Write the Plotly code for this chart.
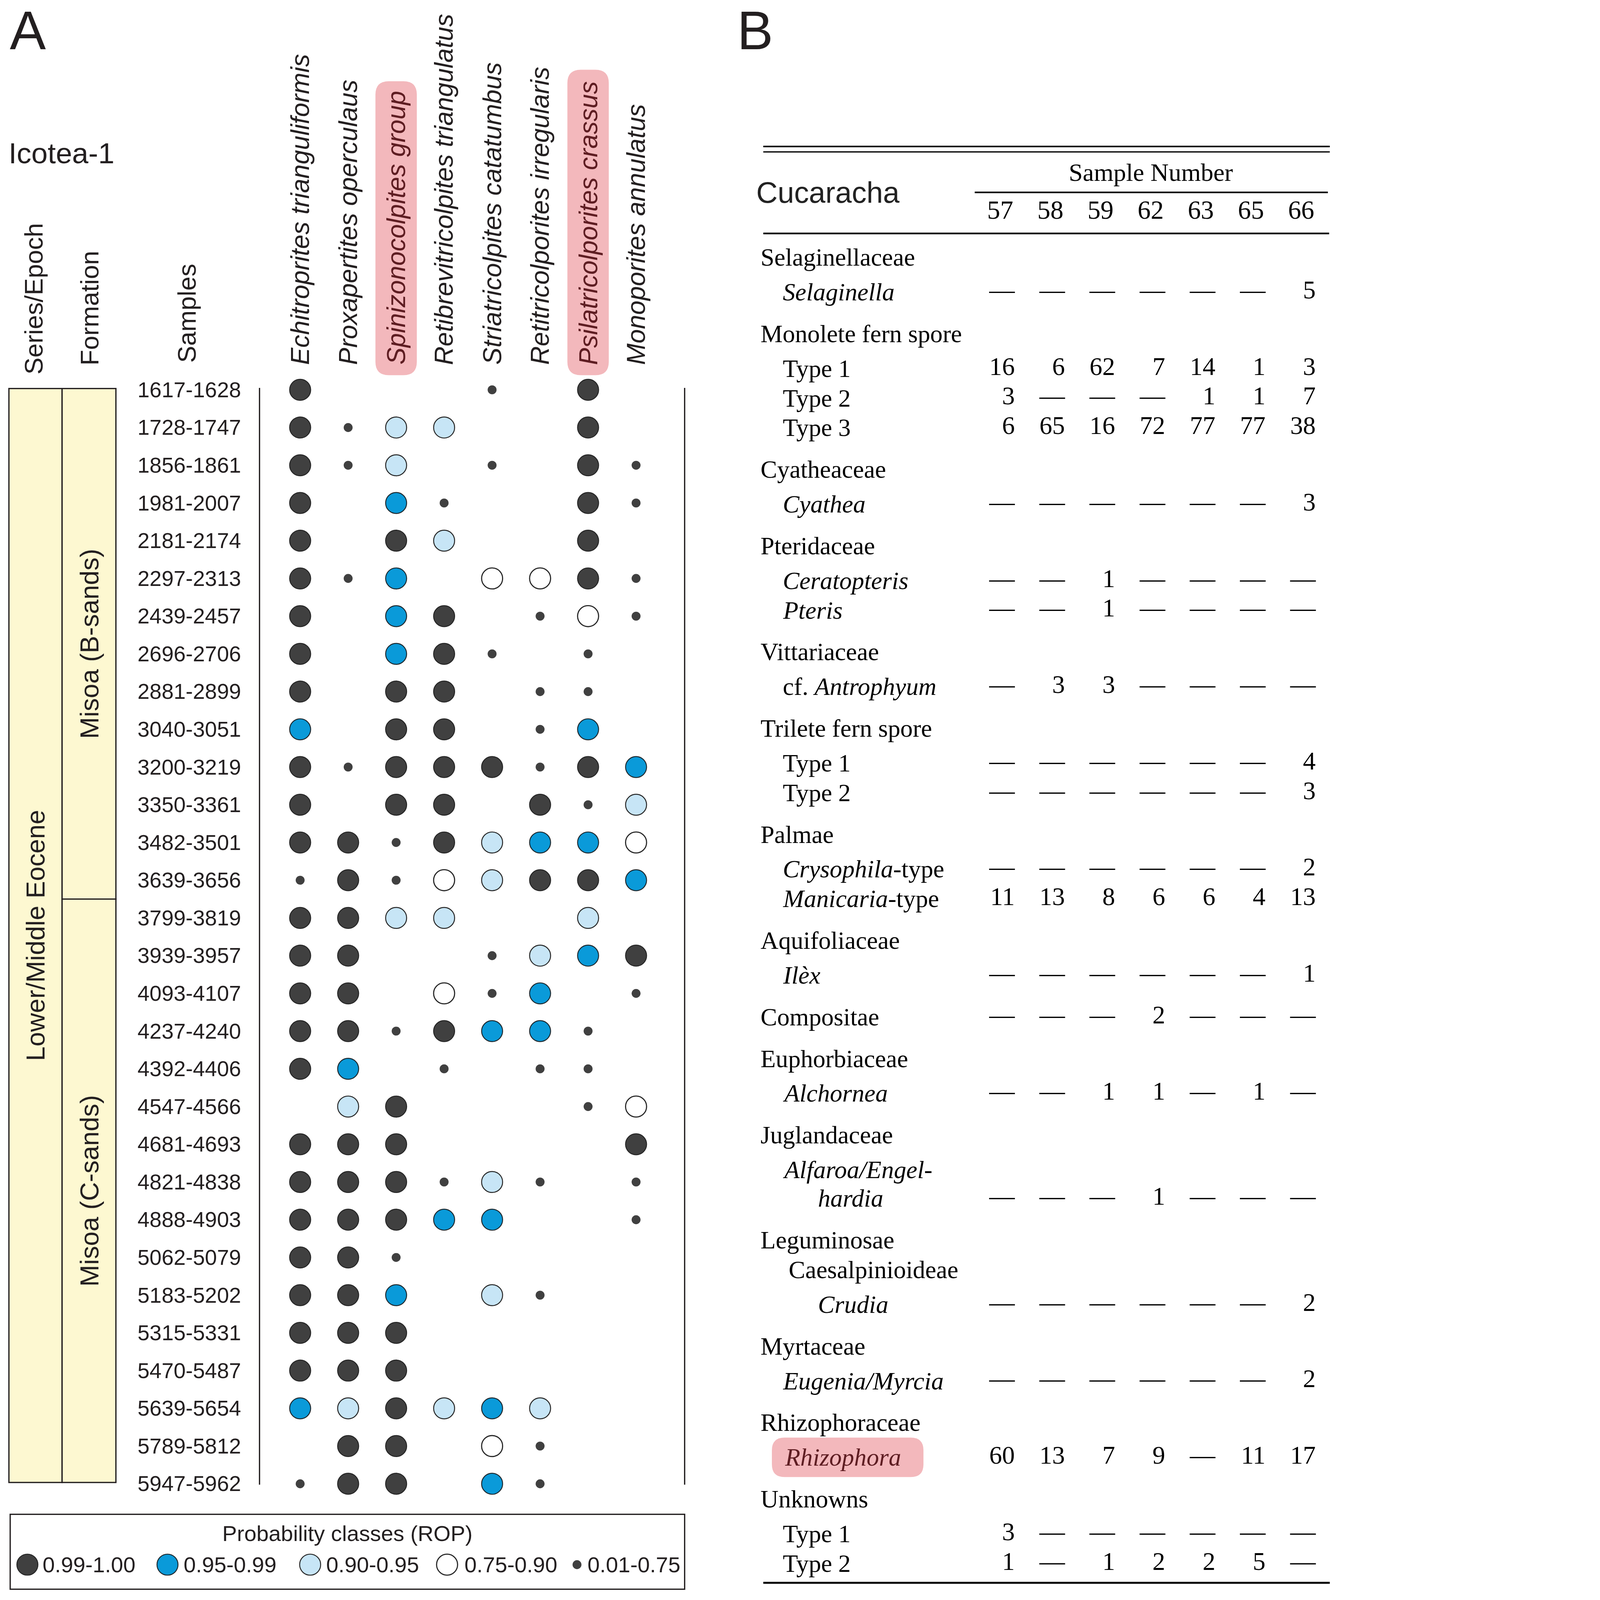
import plotly.graph_objects as go

# reference canvas (all layout constants below are in these units)
W0, H0 = 4199, 5024
# the browser viewport is 4096x4096, so the whole figure is scaled to fit it
S = 4096 / H0
W, H = round(W0 * S), round(H0 * S)

# ---------------- Panel A data ----------------
taxa_A = ["Echitroprites trianguliformis", "Proxapertites operculaus", "Spinizonocolpites group",
          "Retibrevitricolpites triangulatus", "Striatricolpites catatumbus",
          "Retitricolporites irregularis", "Psilatricolporites crassus", "Monoporites annulatus"]
highlight_A = ["Spinizonocolpites group", "Psilatricolporites crassus"]
samples_A = ["1617-1628", "1728-1747", "1856-1861", "1981-2007", "2181-2174", "2297-2313",
             "2439-2457", "2696-2706", "2881-2899", "3040-3051", "3200-3219", "3350-3361",
             "3482-3501", "3639-3656", "3799-3819", "3939-3957", "4093-4107", "4237-4240",
             "4392-4406", "4547-4566", "4681-4693", "4821-4838", "4888-4903", "5062-5079",
             "5183-5202", "5315-5331", "5470-5487", "5639-5654", "5789-5812", "5947-5962"]
# class codes per sample (one char per taxon): A=0.99-1.00, B=0.95-0.99, C=0.90-0.95,
# D=0.75-0.90, E=0.01-0.75, '.'=absent
rop_A = ["A...E.A.", "AECC..A.", "AEC.E.AE", "A.BE..AE", "A.AC..A.", "AEB.DDAE",
         "A.BA.EDE", "A.BAE.E.", "A.AA.EE.", "B.AA.EB.", "AEAAAEAB", "A.AA.AEC",
         "AAEACBBD", "EAEDCAAB", "AACC..C.", "AA..ECBA", "AA.DEB.E", "AAEABBE.",
         "AB.E.EE.", ".CA...ED", "AAA....A", "AAAECE.E", "AAABB..E", "AAE.....",
         "AAB.CE..", "AAA.....", "AAA.....", "BCACBC..", ".AA.DE..", "EAA.BE.."]
class_codes = ["A", "B", "C", "D", "E"]
class_labels = ["0.99-1.00", "0.95-0.99", "0.90-0.95", "0.75-0.90", "0.01-0.75"]
series_label = "Lower/Middle Eocene"
formation_labels = ["Misoa (B-sands)", "Misoa (C-sands)"]
formation_split_after = "3639-3656"

# ---------------- Panel B data ----------------
sample_numbers_B = ["57", "58", "59", "62", "63", "65", "66"]
table_labels = ["Selaginellaceae", "<i>Selaginella</i>", "Monolete fern spore", "Type 1", "Type 2",
                "Type 3", "Cyatheaceae", "<i>Cyathea</i>", "Pteridaceae", "<i>Ceratopteris</i>",
                "<i>Pteris</i>", "Vittariaceae", "cf. <i>Antrophyum</i>", "Trilete fern spore",
                "Type 1", "Type 2", "Palmae", "<i>Crysophila</i>-type", "<i>Manicaria</i>-type",
                "Aquifoliaceae", "<i>Ilèx</i>", "Compositae", "Euphorbiaceae", "<i>Alchornea</i>",
                "Juglandaceae", "<i>Alfaroa/Engel-</i>", "<i>hardia</i>", "Leguminosae",
                "Caesalpinioideae", "<i>Crudia</i>", "Myrtaceae", "<i>Eugenia/Myrcia</i>",
                "Rhizophoraceae", "<i>Rhizophora</i>", "Unknowns", "Type 1", "Type 2"]
table_kinds = ["fam", "tax", "fam", "tax", "tax", "tax", "fam", "tax", "fam", "tax", "tax", "fam",
               "tax", "fam", "tax", "tax", "fam", "tax", "tax", "fam", "tax", "fam", "fam", "tax",
               "fam", "tax", "wrap", "fam", "sub", "deep", "fam", "tax", "fam", "tax", "fam",
               "tax", "tax"]
N = None
table_counts = [None, [N, N, N, N, N, N, 5], None, [16, 6, 62, 7, 14, 1, 3],
                [3, N, N, N, 1, 1, 7], [6, 65, 16, 72, 77, 77, 38], None, [N, N, N, N, N, N, 3],
                None, [N, N, 1, N, N, N, N], [N, N, 1, N, N, N, N], None, [N, 3, 3, N, N, N, N],
                None, [N, N, N, N, N, N, 4], [N, N, N, N, N, N, 3], None, [N, N, N, N, N, N, 2],
                [11, 13, 8, 6, 6, 4, 13], None, [N, N, N, N, N, N, 1], [N, N, N, 2, N, N, N],
                None, [N, N, 1, 1, N, 1, N], None, None, [N, N, N, 1, N, N, N], None, None,
                [N, N, N, N, N, N, 2], None, [N, N, N, N, N, N, 2], None,
                [60, 13, 7, 9, N, 11, 17], None, [3, N, N, N, N, N, N], [1, N, 1, 2, 2, 5, N]]
highlight_B = "<i>Rhizophora</i>"

# ---------------- styling ----------------
INK = "#231f20"
PINK = "#f3b8bc"
PINK_TXT = "#5e1d22"
YELLOW = "#fdf8d1"
SANS = "Liberation Sans, Arial, sans-serif"
SERIF = "Liberation Serif, Times New Roman, serif"


def mk(size, color, lc, lw):
    return dict(size=size * S, color=color, line=dict(color=lc, width=lw * S))


styles = {
    "A": mk(66, "#404040", "#262626", 3),
    "B": mk(66, "#0a9ad9", "#1f2a30", 3),
    "C": mk(66, "#c7e5f6", "#262626", 3),
    "D": mk(66, "#ffffff", "#262626", 3.5),
    "E": mk(28, "#404040", "#404040", 0),
}

COL_W, ROW_H = 150.7, 118.45
X0_PX, Y0_PX = 942.6, 1224.0


def px(x):
    return x / W0


def py(y):
    return 1 - y / H0


def rounded(x0, y0, x1, y1, r):
    a, b, c, d = px(x0), px(x1), py(y0), py(y1)
    rx, ry = r / W0, r / H0
    return (f"M {a+rx},{c} L {b-rx},{c} Q {b},{c} {b},{c-ry} L {b},{d+ry} Q {b},{d} {b-rx},{d} "
            f"L {a+rx},{d} Q {a},{d} {a},{d+ry} L {a},{c-ry} Q {a},{c} {a+rx},{c} Z")


fig = go.Figure()

# ---- dots ----
for code in class_codes:
    xs, ys = [], []
    for r, row in enumerate(rop_A):
        for c, ch in enumerate(row):
            if ch == code:
                xs.append(c)
                ys.append(r)
    fig.add_trace(go.Scatter(x=xs, y=ys, mode="markers", xaxis="x2", yaxis="y2",
                             marker=styles[code], showlegend=False, hoverinfo="skip",
                             cliponaxis=False))

# ---- legend markers ----
leg_x = [86, 526, 974, 1404, 1812]
leg_txt_x = [131, 574, 1022, 1456, 1842]
LEG_Y = 4913
for i, code in enumerate(class_codes):
    fig.add_trace(go.Scatter(x=[leg_x[i]], y=[LEG_Y], mode="markers", xaxis="x", yaxis="y",
                             marker=styles[code], showlegend=False, hoverinfo="skip",
                             cliponaxis=False))

# ---- table row positions ----
row_y = []
y = 808.0
for i, k in enumerate(table_kinds):
    if i > 0:
        prev = table_kinds[i - 1]
        if k == "fam":
            y += 131
        elif k == "sub":
            y += 93
        elif prev in ("fam", "sub"):
            y += 109
        elif k == "wrap":
            y += 90
        else:
            y += 93
    row_y.append(y)

vx, vy, vt = [], [], []
for i, counts in enumerate(table_counts):
    if counts is None:
        continue
    for j, v in enumerate(counts):
        vx.append(j + 0.29)
        vy.append(row_y[i])
        vt.append("—" if v is None else str(v))
fig.add_trace(go.Scatter(x=vx, y=vy, text=vt, mode="text", xaxis="x3", yaxis="y",
                         textposition="middle left", cliponaxis=False, showlegend=False,
                         hoverinfo="skip", textfont=dict(family=SERIF, size=80 * S, color="black")))
fig.add_trace(go.Scatter(x=list(range(len(sample_numbers_B))), y=[666] * len(sample_numbers_B),
                         text=sample_numbers_B, mode="text", xaxis="x3", yaxis="y",
                         textposition="middle center", cliponaxis=False, showlegend=False,
                         hoverinfo="skip", textfont=dict(family=SERIF, size=82 * S, color="black")))

shapes = []
ann = []


def A(text, x, y, size, family=SANS, color=INK, xanchor="center", yanchor="middle",
      angle=0, xref="paper", yref="paper"):
    ann.append(dict(text=text, x=x, y=y, xref=xref, yref=yref, xanchor=xanchor,
                    yanchor=yanchor, textangle=angle, showarrow=False,
                    font=dict(family=family, size=size * S, color=color)))


def line(x0, y0, x1, y1, w, color=INK):
    shapes.append(dict(type="line", xref="paper", yref="paper", x0=px(x0), y0=py(y0),
                       x1=px(x1), y1=py(y1), line=dict(color=color, width=w * S)))


def rect(x0, y0, x1, y1, fill, w=4):
    shapes.append(dict(type="rect", xref="paper", yref="paper", x0=px(x0), y0=py(y0),
                       x1=px(x1), y1=py(y1), fillcolor=fill,
                       line=dict(color=INK, width=w * S), layer="below"))


# ---------------- Panel A decorations ----------------
A("A", px(28), py(96), 170, xanchor="left")
A("Icotea-1", px(24), py(481), 92, xanchor="left")
A("Series/Epoch", px(106), py(1178), 80, yanchor="bottom", angle=-90)
A("Formation", px(282), py(1150), 80, yanchor="bottom", angle=-90)
A("Samples", px(586), py(1142), 80, yanchor="bottom", angle=-90)

pill_tops = {"Spinizonocolpites group": 255, "Psilatricolporites crassus": 219}
for name in highlight_A:
    c = taxa_A.index(name)
    cx = X0_PX + c * COL_W
    shapes.append(dict(type="path", xref="paper", yref="paper",
                       path=rounded(cx - 65, pill_tops[name], cx + 65, 1178, 42),
                       fillcolor=PINK, line=dict(width=0), layer="below"))

for c, name in enumerate(taxa_A):
    col = PINK_TXT if name in highlight_A else INK
    A(f"<i>{name}</i>", c, py(1148), 81, color=col, yanchor="bottom", angle=-90, xref="x2")

for r, s in enumerate(samples_A):
    A(s, px(759), r, 68, xanchor="right", yref="y2")

split_idx = samples_A.index(formation_split_after)
split_y = Y0_PX + (split_idx + 0.5) * ROW_H
top_y, bot_y = 1220, 4655
rect(28, top_y, 195, bot_y, YELLOW)
rect(195, top_y, 364, split_y, YELLOW)
rect(195, split_y, 364, bot_y, YELLOW)
A(series_label, px(112), py((top_y + bot_y) / 2), 82, angle=-90)
A(formation_labels[0], px(280), py((top_y + split_y) / 2), 82, angle=-90)
A(formation_labels[1], px(280), py((split_y + bot_y) / 2), 82, angle=-90)

line(815, 1218, 815, 4662, 4)
line(2150, 1218, 2150, 4662, 4)

rect(32, 4755, 2150, 4990, "rgba(0,0,0,0)", w=4)
A("Probability classes (ROP)", px(1091), py(4815), 69)
for i, lab in enumerate(class_labels):
    A(lab, px(leg_txt_x[i]), py(LEG_Y), 69, xanchor="left")

# ---------------- Panel B decorations ----------------
A("B", px(2312), py(96), 170, xanchor="left")
line(2397, 460, 4176, 460, 5, "black")
line(2397, 477, 4176, 477, 4, "black")
A("Sample Number", px(3614), py(541), 79, family=SERIF, color="black")
line(3061, 604, 4170, 604, 5, "black")
A("Cucaracha", px(2372), py(604), 93, xanchor="left", color="#222222")
line(2397, 733, 4174, 733, 5, "black")
line(2397, 4970, 4176, 4970, 6, "black")

indent = {"fam": 2386, "tax": 2456, "sub": 2474, "deep": 2566, "wrap": 2566}
for i, lab in enumerate(table_labels):
    if lab == highlight_B:
        shapes.append(dict(type="path", xref="paper", yref="paper",
                           path=rounded(2424, row_y[i] - 62, 2900, row_y[i] + 62, 40),
                           fillcolor=PINK, line=dict(width=0), layer="below"))
        A(lab, px(2462), row_y[i], 78, family=SERIF, color=PINK_TXT, xanchor="left", yref="y")
        continue
    A(lab, px(indent[table_kinds[i]]), row_y[i], 78, family=SERIF, color="black",
      xanchor="left", yref="y")

# ---------------- axes ----------------
x2_l = X0_PX - 0.5 * COL_W
x2_r = X0_PX + (len(taxa_A) - 0.5) * COL_W
y2_t = Y0_PX - 0.5 * ROW_H
y2_b = Y0_PX + (len(samples_A) - 0.5) * ROW_H
x3_c0, x3_w = 3141.0, 157.5
x3_l = x3_c0 - 0.5 * x3_w
x3_r = x3_c0 + (len(sample_numbers_B) - 0.5) * x3_w

hid = dict(visible=False, showgrid=False, zeroline=False, fixedrange=True)
fig.update_layout(
    width=W, height=H, margin=dict(l=0, r=0, t=0, b=0),
    paper_bgcolor="white", plot_bgcolor="rgba(0,0,0,0)",
    xaxis=dict(range=[0, W0], domain=[0, 1], anchor="y", **hid),
    yaxis=dict(range=[H0, 0], domain=[0, 1], anchor="x", **hid),
    xaxis2=dict(range=[-0.5, len(taxa_A) - 0.5], domain=[px(x2_l), px(x2_r)], anchor="y2", **hid),
    yaxis2=dict(range=[len(samples_A) - 0.5, -0.5], domain=[py(y2_b), py(y2_t)], anchor="x2", **hid),
    xaxis3=dict(range=[-0.5, len(sample_numbers_B) - 0.5], domain=[px(x3_l), px(x3_r)],
                anchor="y", **hid),
    shapes=shapes, annotations=ann, showlegend=False,
)

fig.write_html("out.html", config={"staticPlot": True},
               post_script="document.body.style.margin='0';")
